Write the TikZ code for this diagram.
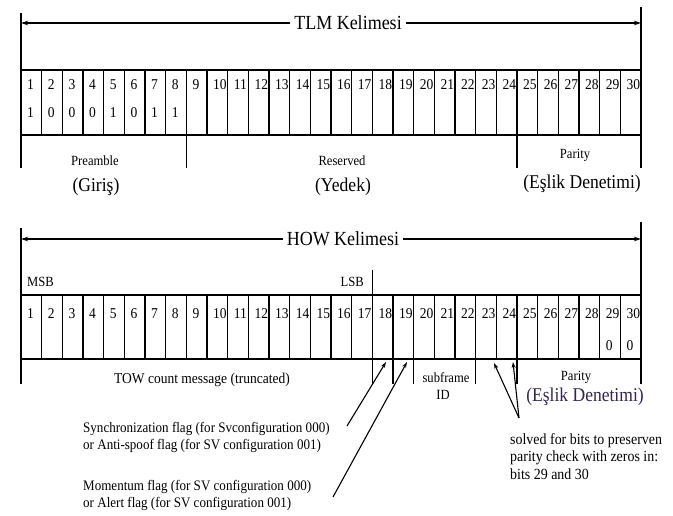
\documentclass[tikz,border=0pt]{standalone}
\usepackage{fontspec}
\setmainfont{Liberation Serif}[FakeStretch=0.9]
\usetikzlibrary{arrows.meta}
\definecolor{hdark}{RGB}{50,38,72}
\begin{document}
\begin{tikzpicture}[x=1pt,y=-1pt,
  lw/.style={line width=1.4pt},
  thin/.style={line width=1.1pt},
  big/.style={inner sep=0pt,font=\fontsize{19.5}{21}\selectfont},
  small/.style={inner sep=0pt,font=\fontsize{14}{15}\selectfont},
  note/.style={inner sep=0pt,anchor=north west,align=left,font=\fontsize{14.5}{17.5}\selectfont},
  num/.style={inner sep=0pt,anchor=west,font=\fontsize{15}{15}\selectfont},
  title/.style={inner sep=4pt,fill=white,font=\fontsize{20}{21}\selectfont},
  harrow/.style={thin,-{Stealth[length=7pt,width=4.5pt]}},
  parr/.style={line width=1.1pt,-{Stealth[length=6pt,width=4pt]}}
]
\useasboundingbox (0,0) rectangle (673,515);
\def\L{21}\def\W{20.667}
% ---------------- TLM ----------------
\coordinate (tl) at (21,23); \coordinate (tr) at (641,23);
\node[title] (tlm) at (348,23) {TLM Kelimesi};
\draw[harrow] (tlm.west) -- (tl);
\draw[harrow] (tlm.east) -- (tr);
\draw[thin] (21,13) -- (21,168);
\draw[thin] (641,7) -- (641,168);
\foreach \i in {1,...,30}{
  \node[num] (ta\i) at ({\L+(\i-1)*\W+6},85) {\i};
}
\foreach \i/\b in {1/1,2/0,3/0,4/0,5/1,6/0,7/1,8/1}{
  \node[num] (tb\i) at ({\L+(\i-1)*\W+6},113) {\b};
}
\draw[lw] (21,70) rectangle (641,135);
\foreach \i in {1,...,29}{
  \draw[lw] ({\L+\i*\W},70) -- ({\L+\i*\W},135);
}
\draw[thin] ({\L+8*\W},135) -- ({\L+8*\W},168);
\draw[thin] ({\L+24*\W},135) -- ({\L+24*\W},168);
\node[small] (pre) at (95,161) {Preamble};
\node[big] (gir) at (96,187) {(Giriş)};
\node[small] (res) at (342,161) {Reserved};
\node[big] (yed) at (343,187) {(Yedek)};
\node[small] (par1) at (575,155) {Parity};
\node[big] (esl1) at (582,184) {(Eşlik Denetimi)};
% ---------------- HOW ----------------
\coordinate (hl) at (21,239); \coordinate (hr) at (641,239);
\node[title] (how) at (343,239) {HOW Kelimesi};
\draw[harrow] (how.west) -- (hl);
\draw[harrow] (how.east) -- (hr);
\draw[thin] (21,228) -- (21,384);
\draw[thin] (641,222) -- (641,384);
\node[small,anchor=west] (msb) at (27,282) {MSB};
\node[small,anchor=east] (lsb) at (364,282) {LSB};
\draw[thin] ({\L+17*\W},270) -- ({\L+17*\W},295);
\foreach \i in {1,...,30}{
  \node[num] (ha\i) at ({\L+(\i-1)*\W+6},314) {\i};
}
\node[num] (hb29) at ({\L+28*\W+6},346) {0};
\node[num] (hb30) at ({\L+29*\W+6},346) {0};
\draw[lw] (21,295) rectangle (641,359);
\foreach \i in {1,...,29}{
  \draw[lw] ({\L+\i*\W},295) -- ({\L+\i*\W},359);
}
\foreach \i in {17,18,19,22,24}{
  \draw[thin] ({\L+\i*\W},359) -- ({\L+\i*\W},384);
}
\node[small,font=\fontsize{15}{16}\selectfont] (tow) at (202,380) {TOW count message (truncated)};
\node[small] (sub) at (446,378) {subframe};
\node[small] (sid) at (443,395) {ID};
\node[small] (par2) at (576,377) {Parity};
\node[big,text=hdark] (esl2) at (585,397) {(Eşlik Denetimi)};
% notes
\node[note] (sync) at (83,422) {Synchronization flag (for Svconfiguration 000)\\or Anti-spoof flag (for SV configuration 001)};
\node[note] (mom) at (83,480) {Momentum flag (for SV configuration 000)\\or Alert flag (for SV configuration 001)};
\node[note,font=\fontsize{15.5}{17.5}\selectfont] (solv) at (510,433) {solved for bits to preserven\\parity check with zeros in:\\bits 29 and 30};
\coordinate (sa) at (347,426);
\coordinate (sb) at (333,497);
\coordinate (sc) at (519,418);
\coordinate (ta) at (386,362);
\coordinate (tbb) at (407,362);
\coordinate (tc) at (494,363);
\coordinate (td) at (513,362);
\draw[parr] (sa) -- (ta);
\draw[parr] (sb) -- (tbb);
\draw[parr] (sc) -- (tc);
\draw[parr] (sc) -- (td);
\end{tikzpicture}
\end{document}
